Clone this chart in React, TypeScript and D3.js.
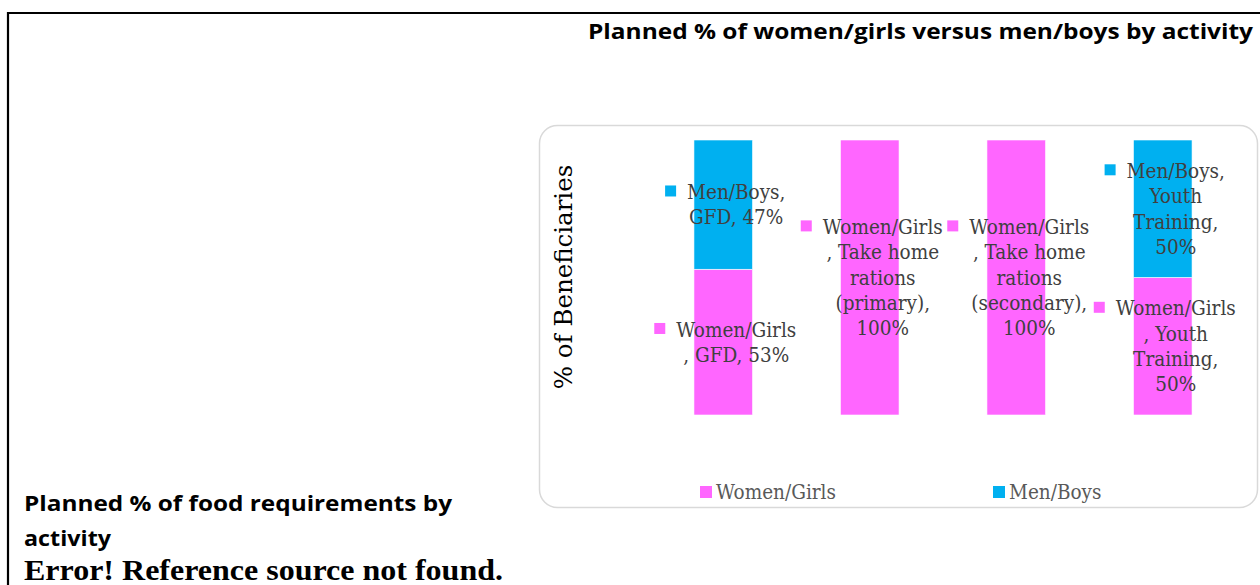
import React, { useMemo } from 'react';
import * as d3 from 'd3';

const categories = ['GFD', 'Take home rations (primary)', 'Take home rations (secondary)', 'Youth Training'];
const seriesNames = ['Women/Girls', 'Men/Boys'];
const seriesColors = ['#FF66FF', '#00B0F0'];
const womenGirls = [0.53, 1.0, 1.0, 0.5];
const menBoys = [0.47, 0, 0, 0.5];

const chartTitle = 'Planned % of women/girls versus men/boys by activity';
const yAxisTitle = '% of Beneficiaries';
const captionLines = ['Planned % of food requirements by', 'activity'];
const errorLine = 'Error! Reference source not found.';

const W = 1260;
const H = 585;
const labelFont = "'DejaVu Serif Condensed', 'DejaVu Serif', serif";
const labelSize = 20.5;
const lineH = 25.3;

let ctx: CanvasRenderingContext2D | null = null;
const measure = (s: string) => {
    if (!ctx) {
        ctx = document.createElement('canvas').getContext('2d');
    }
    ctx!.font = `${labelSize}px ${labelFont}`;
    return ctx!.measureText(s).width;
};

// greedy wrap, Excel-like: a trailing comma that does not fit moves to the next line
const wrap = (text: string, maxW: number) => {
    const words = text.split(' ');
    const lines: string[] = [];
    let line = '';
    for (const w of words) {
        const cand = line ? line + ' ' + w : w;
        if (measure(cand) <= maxW) { line = cand; continue; }
        if (line) lines.push(line);
        if (measure(w) <= maxW) line = w;
        else if (w.endsWith(',')) { lines.push(w.slice(0, -1)); line = ','; }
        else line = w;
    }
    if (line) lines.push(line);
    return lines;
};

export default function App() {
    const x = d3.scaleBand<string>().domain(categories).range([650, 1236]).padding(0);
    const barW = x.step() / 2.5;
    const y = d3.scaleLinear().domain([0, 1]).range([415, 140]);

    const stacked = useMemo(() => {
        const rows = categories.map((c, i) => ({ cat: c, 'Women/Girls': womenGirls[i], 'Men/Boys': menBoys[i] }));
        return d3.stack<any>().keys(seriesNames)(rows);
    }, []);

    const pct = d3.format('.0%');
    const maxW = measure('Women/Girls') + 3;

    const labels: any[] = [];
    stacked.forEach((layer, si) => {
        layer.forEach((d, ci) => {
            const v = d[1] - d[0];
            if (v <= 0) return;
            const lines = wrap(`${seriesNames[si]}, ${categories[ci]}, ${pct(v)}`, maxW);
            const textW = d3.max(lines, measure) as number;
            const cx = x(categories[ci])! + x.step() / 2;
            const cy = (y(d[0]) + y(d[1])) / 2;
            const left = cx - (textW + 22) / 2 + 2;
            labels.push({ key: `${si}-${ci}`, si, lines, textW, cy, left });
        });
    });

    return (
        <div style={{ position: 'absolute', left: 0, top: 0 }}>
            <svg width={W} height={H} style={{ display: 'block', background: '#fff' }}>
                {/* page frame */}
                <line x1={8} x2={W} y1={13} y2={13} stroke="#000" strokeWidth={2.2} />
                <line x1={8} x2={8} y1={12} y2={H} stroke="#000" strokeWidth={2.2} />

                <text x={588} y={39} fontFamily="'Open Sans', sans-serif" fontWeight={700} fontSize={22}
                    textLength={665} lengthAdjust="spacingAndGlyphs">{chartTitle}</text>

                <rect x={539.5} y={125.5} width={718} height={382} rx={18} fill="#fff" stroke="#d9d9d9" strokeWidth={1.5} />

                <text transform="translate(572,277) rotate(-90)" textAnchor="middle" fontFamily="'DejaVu Serif', serif"
                    fontSize={24.5} fill="#000">{yAxisTitle}</text>

                {stacked.map((layer, si) => (
                    <g key={si} fill={seriesColors[si]}>
                        {layer.map((d, ci) => (
                            d[1] - d[0] > 0 ? (
                                <rect key={ci} x={x(categories[ci])! + (x.step() - barW) / 2} y={y(d[1])}
                                    width={barW} height={y(d[0]) - y(d[1])} stroke="#fff" strokeWidth={0.6} />
                            ) : null
                        ))}
                    </g>
                ))}

                {labels.map(l => {
                    const n = l.lines.length;
                    const y0 = l.cy - (n - 1) * lineH / 2;
                    const tx = l.left + 22 + l.textW / 2;
                    return (
                        <g key={l.key}>
                            <rect x={l.left} y={y0 - 6.5} width={11} height={11} fill={seriesColors[l.si]} />
                            {l.lines.map((s: string, i: number) => (
                                <text key={i} x={tx} y={y0 + i * lineH} dy="0.35em" textAnchor="middle"
                                    fontFamily={labelFont} fontSize={labelSize} fill="#404040">{s}</text>
                            ))}
                        </g>
                    );
                })}

                {seriesNames.map((s, i) => {
                    const lx = 700 + i * 293;
                    return (
                        <g key={s}>
                            <rect x={lx} y={486} width={12} height={12} fill={seriesColors[i]} />
                            <text x={lx + 16} y={492} dy="0.35em" fontFamily={labelFont} fontSize={labelSize}
                                fill="#595959">{s}</text>
                        </g>
                    );
                })}

                <text x={24} y={511} fontFamily="'Open Sans', sans-serif" fontWeight={700} fontSize={22}
                    textLength={428} lengthAdjust="spacingAndGlyphs">{captionLines[0]}</text>
                <text x={24} y={546} fontFamily="'Open Sans', sans-serif" fontWeight={700} fontSize={22}
                    textLength={87} lengthAdjust="spacingAndGlyphs">{captionLines[1]}</text>
                <text x={24} y={580} fontFamily="'Liberation Serif', serif" fontWeight={700} fontSize={29}
                    textLength={479} lengthAdjust="spacingAndGlyphs">{errorLine}</text>
            </svg>
        </div>
    );
}
